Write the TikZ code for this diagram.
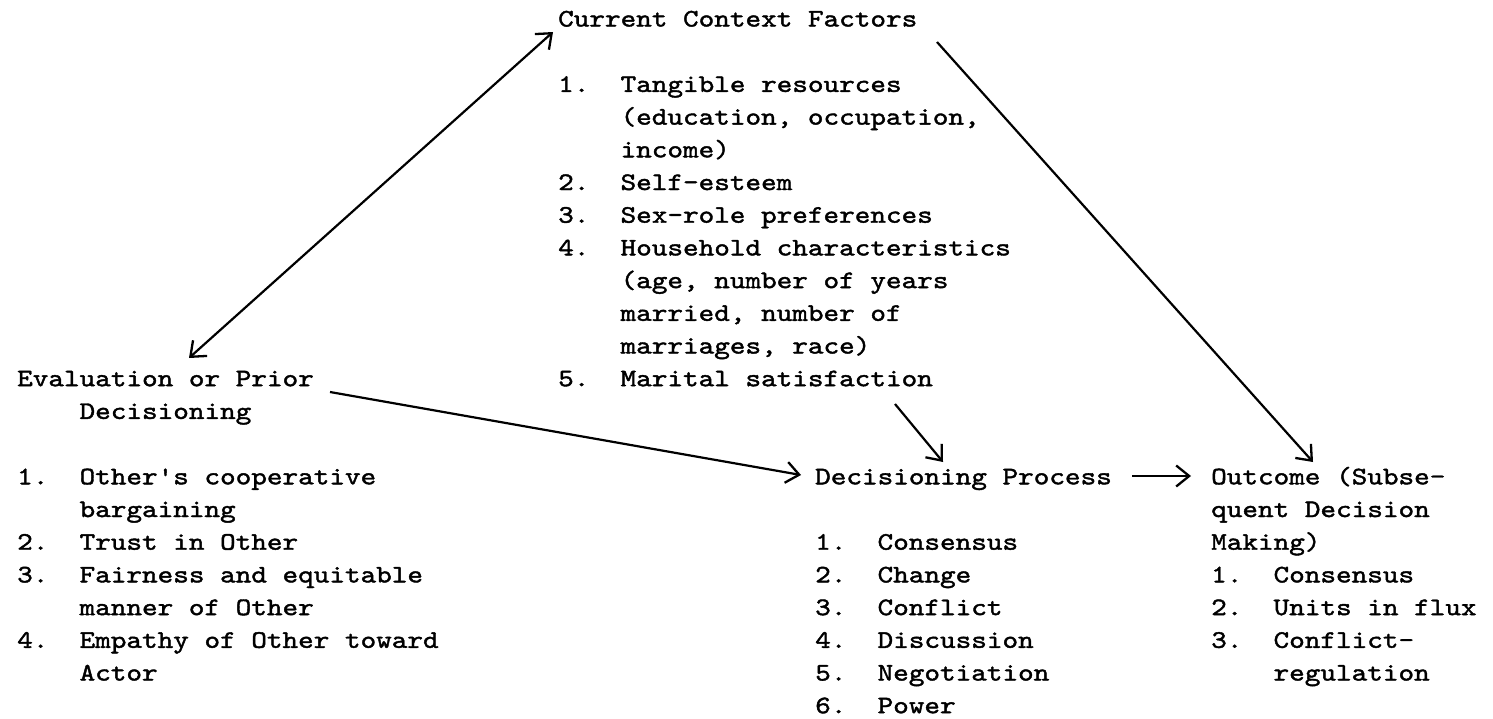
\documentclass[tikz,border=0pt]{standalone}
\usepackage{fontspec}
\setmonofont{lmmono10-regular}[Extension=.otf, FakeBold=1.6, FakeStretch=1.18]
\usetikzlibrary{arrows.meta}
\newcommand\rowtext[4]{\node[tl] (#1) at (#2,{26.5+32.7*#3}) {#4};}
\tikzset{barb/.tip={Straight Barb[length=13pt,width=21pt,line width=2.3pt]}}
\begin{document}
\begin{tikzpicture}[x=1pt,y=-1pt,
  tl/.style={anchor=base west, inner sep=0pt, font=\ttfamily\fontsize{25.2}{32.7}\selectfont},
  conn/.style={line width=2.2pt, -barb},
  both/.style={line width=2.2pt, barb-barb}]
\useasboundingbox (0,0) rectangle (1493,718);
% ---- Current Context Factors (top) ----
\rowtext{ccf}{558}{0}{Current Context Factors}
\rowtext{c1n}{558}{2}{1.}   \rowtext{c1a}{620.4}{2}{Tangible resources}
\rowtext{c1b}{620.4}{3}{(education, occupation,}
\rowtext{c1c}{620.4}{4}{income)}
\rowtext{c2n}{558}{5}{2.}   \rowtext{c2a}{620.4}{5}{Self-esteem}
\rowtext{c3n}{558}{6}{3.}   \rowtext{c3a}{620.4}{6}{Sex-role preferences}
\rowtext{c4n}{558}{7}{4.}   \rowtext{c4a}{620.4}{7}{Household characteristics}
\rowtext{c4b}{620.4}{8}{(age, number of years}
\rowtext{c4c}{620.4}{9}{married, number of}
\rowtext{c4d}{620.4}{10}{marriages, race)}
\rowtext{c5n}{558}{11}{5.}  \rowtext{c5a}{620.4}{11}{Marital satisfaction}
% ---- Evaluation or Prior Decisioning (left) ----
\rowtext{ev}{17}{11}{Evaluation or Prior}
\rowtext{ev2}{79.4}{12}{Decisioning}
\rowtext{e1n}{17}{14}{1.}   \rowtext{e1a}{79.4}{14}{Other\symbol{39}s cooperative}
\rowtext{e1b}{79.4}{15}{bargaining}
\rowtext{e2n}{17}{16}{2.}   \rowtext{e2a}{79.4}{16}{Trust in Other}
\rowtext{e3n}{17}{17}{3.}   \rowtext{e3a}{79.4}{17}{Fairness and equitable}
\rowtext{e3b}{79.4}{18}{manner of Other}
\rowtext{e4n}{17}{19}{4.}   \rowtext{e4a}{79.4}{19}{Empathy of Other toward}
\rowtext{e4b}{79.4}{20}{Actor}
% ---- Decisioning Process ----
\rowtext{dp}{815}{14}{Decisioning Process}
\rowtext{d1n}{815}{16}{1.}  \rowtext{d1a}{877.4}{16}{Consensus}
\rowtext{d2n}{815}{17}{2.}  \rowtext{d2a}{877.4}{17}{Change}
\rowtext{d3n}{815}{18}{3.}  \rowtext{d3a}{877.4}{18}{Conflict}
\rowtext{d4n}{815}{19}{4.}  \rowtext{d4a}{877.4}{19}{Discussion}
\rowtext{d5n}{815}{20}{5.}  \rowtext{d5a}{877.4}{20}{Negotiation}
\rowtext{d6n}{815}{21}{6.}  \rowtext{d6a}{877.4}{21}{Power}
% ---- Outcome ----
\rowtext{oc}{1211}{14}{Outcome (Subse-}
\rowtext{oc2}{1211}{15}{quent Decision}
\rowtext{oc3}{1211}{16}{Making)}
\rowtext{o1n}{1211}{17}{1.} \rowtext{o1a}{1273.4}{17}{Consensus}
\rowtext{o2n}{1211}{18}{2.} \rowtext{o2a}{1273.4}{18}{Units in flux}
\rowtext{o3n}{1211}{19}{3.} \rowtext{o3a}{1273.4}{19}{Conflict-}
\rowtext{o3b}{1273.4}{20}{regulation}
% ---- connector end points ----
\coordinate (ccfA) at (553,32);
\coordinate (evA) at (189,358);
\coordinate (ccfB) at (937,42);
\coordinate (ocA) at (1313,462);
\coordinate (evB) at (330,392);
\coordinate (dpA) at (801,475);
\coordinate (msA) at (895,404);
\coordinate (dpB) at (943,462);
\coordinate (dpC) at (1132,476);
\coordinate (ocB) at (1191,476);
% ---- connectors ----
\draw[both] (evA) -- (ccfA);
\draw[conn] (ccfB) -- (ocA);
\draw[conn] (evB) -- (dpA);
\draw[conn] (msA) -- (dpB);
\draw[conn] (dpC) -- (ocB);
\end{tikzpicture}
\end{document}
